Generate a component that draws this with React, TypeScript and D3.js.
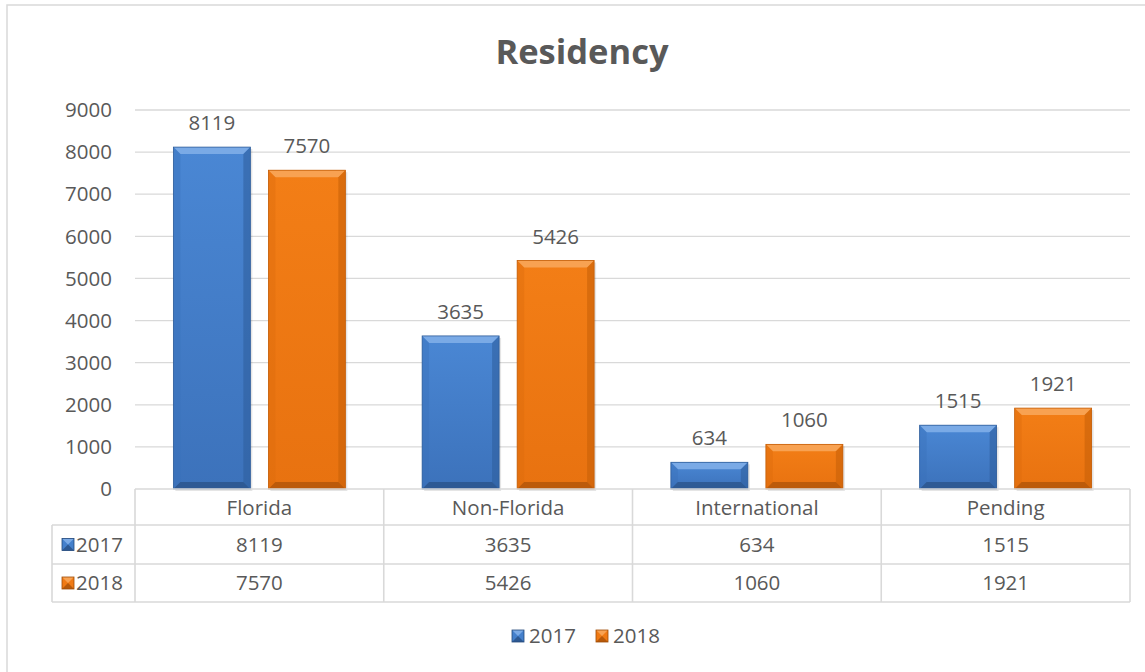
import React from "react";
import * as d3 from "d3";

const categories = ["Florida", "Non-Florida", "International", "Pending"];
const seriesNames = ["2017", "2018"];
const values2017 = [8119, 3635, 634, 1515];
const values2018 = [7570, 5426, 1060, 1921];
const yTicks = [0, 1000, 2000, 3000, 4000, 5000, 6000, 7000, 8000, 9000];

const W = 1145;
const H = 672;
const FONT = "'Open Sans', 'Liberation Sans', sans-serif";
const TXT = "#595959";
const GRID = "#d9d9d9";
const FS = 20.5;

const palette: Record<string, { main: string; top: string; left: string; right: string; bottom: string; g1: string; g2: string }> = {
  "2017": { main: "#4480cc", top: "#7aaae6", left: "#3a70b8", right: "#2e5d9a", bottom: "#24497a", g1: "#4a87d4", g2: "#3c72bb" },
  "2018": { main: "#f07a14", top: "#f8a252", left: "#dc6c0c", right: "#c45e08", bottom: "#9e4b06", g1: "#f37e16", g2: "#e87210" },
};

export default function App() {
  const plotL = 135, plotR = 1130, plotT = 110, plotB = 489;
  const x0 = d3.scaleBand<string>().domain(categories).range([plotL, plotR]).padding(0);
  const x1 = d3.scaleBand<string>().domain(seriesNames).range([0, x0.bandwidth()]).paddingInner(0.19).paddingOuter(0.404);
  const y = d3.scaleLinear().domain([0, 9000]).range([plotB, plotT]);
  const data: Record<string, number[]> = { "2017": values2017, "2018": values2018 };

  const rowH = [36, 39, 38];
  const tableTop = plotB;
  const rowTops = [tableTop, tableTop + rowH[0], tableTop + rowH[0] + rowH[1]];
  const tableBottom = rowTops[2] + rowH[2];
  const labelL = 52;

  const bevel = (x: number, yy: number, w: number, h: number, s: string, key: string) => {
    const c = palette[s];
    const b = Math.min(7, h / 2);
    return (
      <g key={key}>
        <rect x={x + 2} y={yy + 2} width={w} height={h} fill="#000" opacity={0.1} />
        <rect x={x} y={yy} width={w} height={h} fill={`url(#grad${s})`} />
        <polygon points={`${x},${yy} ${x + w},${yy} ${x + w - b},${yy + b} ${x + b},${yy + b}`} fill={c.top} />
        <polygon points={`${x},${yy} ${x + b},${yy + b} ${x + b},${yy + h - b} ${x},${yy + h}`} fill={c.left} opacity={0.4} />
        <polygon points={`${x + w},${yy} ${x + w},${yy + h} ${x + w - b},${yy + h - b} ${x + w - b},${yy + b}`} fill={c.right} opacity={0.55} />
        <polygon points={`${x},${yy + h} ${x + w},${yy + h} ${x + w - b},${yy + h - b} ${x + b},${yy + h - b}`} fill={c.bottom} opacity={0.6} />
        <rect x={x} y={yy} width={w} height={h} fill="none" stroke={c.right} strokeWidth={0.8} />
      </g>
    );
  };

  const icon = (x: number, cy: number, s: string, key: string) => {
    const c = palette[s];
    const sz = 12;
    const yy = cy - sz / 2;
    return (
      <g key={key}>
        <rect x={x} y={yy} width={sz} height={sz} fill={c.main} />
        <polygon points={`${x},${yy} ${x + sz},${yy} ${x + sz / 2},${yy + sz / 2}`} fill={c.top} />
        <polygon points={`${x},${yy + sz} ${x + sz},${yy + sz} ${x + sz / 2},${yy + sz / 2}`} fill={c.bottom} opacity={0.7} />
        <rect x={x} y={yy} width={sz} height={sz} fill="none" stroke={c.bottom} strokeWidth={0.8} />
      </g>
    );
  };

  return (
    <svg width={W} height={H} style={{ position: "absolute", left: 0, top: 0, background: "#fff" }} fontFamily={FONT}>
      <defs>
        {seriesNames.map((s) => (
          <linearGradient key={s} id={`grad${s}`} x1="0" y1="0" x2="0" y2="1">
            <stop offset="0" stopColor={palette[s].g1} />
            <stop offset="1" stopColor={palette[s].g2} />
          </linearGradient>
        ))}
      </defs>
      <rect x={7} y={5} width={W + 20} height={H + 20} fill="#fff" stroke={GRID} strokeWidth={1.5} />
      <text x={582} y={64} textAnchor="middle" fontSize={34.5} fontWeight="bold" fill={TXT}>Residency</text>

      {yTicks.map((t) => (
        <g key={t}>
          {t > 0 && <line x1={plotL} x2={plotR} y1={y(t)} y2={y(t)} stroke={GRID} strokeWidth={1.3} />}
          <text x={112} y={y(t)} dy="0.35em" textAnchor="end" fontSize={FS} fill={TXT}>{t}</text>
        </g>
      ))}

      {categories.map((cat, i) =>
        seriesNames.map((s) => {
          const v = data[s][i];
          const bx = (x0(cat) as number) + (x1(s) as number);
          const bw = x1.bandwidth();
          const top = y(v);
          return (
            <g key={cat + s}>
              {bevel(bx, top, bw, plotB - top, s, "b")}
              <text x={bx + bw / 2} y={top - 17} textAnchor="middle" fontSize={FS} fill={TXT}>{v}</text>
            </g>
          );
        })
      )}

      {/* data table */}
      <g stroke={GRID} strokeWidth={1.6} fill="none">
        <line x1={plotL} x2={plotR} y1={rowTops[0]} y2={rowTops[0]} />
        <line x1={labelL} x2={plotR} y1={rowTops[1]} y2={rowTops[1]} />
        <line x1={labelL} x2={plotR} y1={rowTops[2]} y2={rowTops[2]} />
        <line x1={labelL} x2={plotR} y1={tableBottom} y2={tableBottom} />
        <line x1={labelL} x2={labelL} y1={rowTops[1]} y2={tableBottom} />
        {categories.map((cat) => (
          <line key={cat} x1={x0(cat)} x2={x0(cat)} y1={rowTops[0]} y2={tableBottom} />
        ))}
        <line x1={plotR} x2={plotR} y1={rowTops[0]} y2={tableBottom} />
      </g>
      {categories.map((cat) => (
        <text key={cat} x={(x0(cat) as number) + x0.bandwidth() / 2} y={rowTops[0] + rowH[0] / 2 + 1} dy="0.35em" textAnchor="middle" fontSize={FS} fill={TXT}>{cat}</text>
      ))}
      {seriesNames.map((s, r) => {
        const cy = rowTops[r + 1] + rowH[r + 1] / 2;
        return (
          <g key={s}>
            {icon(62, cy, s, "i")}
            <text x={76} y={cy} dy="0.35em" fontSize={FS} fill={TXT}>{s}</text>
            {categories.map((cat, i) => (
              <text key={cat} x={(x0(cat) as number) + x0.bandwidth() / 2} y={cy} dy="0.35em" textAnchor="middle" fontSize={FS} fill={TXT}>{data[s][i]}</text>
            ))}
          </g>
        );
      })}

      {/* legend */}
      {seriesNames.map((s, i) => {
        const lx = 512 + i * 84;
        return (
          <g key={s}>
            {icon(lx, 636, s, "li")}
            <text x={lx + 17} y={636} dy="0.35em" fontSize={FS} fill={TXT}>{s}</text>
          </g>
        );
      })}
    </svg>
  );
}
